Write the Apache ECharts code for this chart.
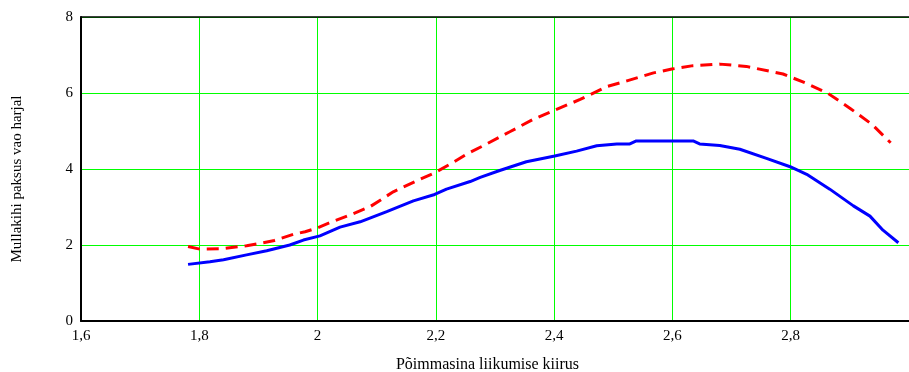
<!DOCTYPE html>
<html>
<head>
<meta charset="utf-8">
<script src="https://cdn.jsdelivr.net/npm/echarts@6/dist/echarts.min.js"></script>
<style>html,body{margin:0;padding:0;background:#fff}#c{width:909px;height:372px}</style>
</head>
<body>
<div id="c"></div>
<script>
var xTitle = 'Põimmasina liikumise kiirus';
var yTitle = 'Mullakihi paksus vao harjal';
var blueX = [1.781,1.818,1.841,1.880,1.914,1.953,1.976,2.004,2.038,2.072,2.117,2.162,2.198,2.218,2.258,2.275,2.308,2.353,2.401,2.438,2.472,2.506,2.528,2.539,2.635,2.646,2.680,2.714,2.759,2.799,2.827,2.866,2.906,2.934,2.956,2.982];
var blueY = [1.49,1.56,1.61,1.74,1.85,2.00,2.13,2.24,2.47,2.61,2.88,3.16,3.33,3.47,3.67,3.78,3.96,4.19,4.34,4.47,4.61,4.66,4.66,4.74,4.74,4.66,4.62,4.52,4.28,4.06,3.86,3.47,3.03,2.76,2.39,2.06];
var redX = [1.781,1.801,1.835,1.880,1.925,1.959,1.979,1.998,2.021,2.055,2.089,2.128,2.173,2.198,2.229,2.252,2.286,2.325,2.365,2.401,2.444,2.489,2.523,2.568,2.599,2.635,2.680,2.725,2.787,2.827,2.863,2.900,2.937,2.969];
var redY = [1.96,1.89,1.90,1.98,2.11,2.28,2.35,2.44,2.59,2.79,3.01,3.40,3.73,3.90,4.17,4.39,4.66,4.98,5.31,5.55,5.83,6.17,6.32,6.53,6.63,6.72,6.76,6.70,6.50,6.25,5.99,5.60,5.18,4.69];
function pairs(xs, ys){ return xs.map(function(x,i){ return [x, ys[i]]; }); }
var font = 'Liberation Serif';
var gridColor = '#00ff00';
var chart = echarts.init(document.getElementById('c'));
chart.setOption({
  animation: false,
  grid: {left: 81, right: 0, top: 17, bottom: 51, outerBoundsMode: 'none', containLabel: false},
  xAxis: [{
    type: 'value', min: 1.6, max: 3.0, interval: 0.2,
    name: xTitle, nameLocation: 'middle', nameGap: 36,
    nameTextStyle: {fontFamily: font, fontSize: 16, color: '#000', padding: [0, 15, 0, 0]},
    axisLine: {show: true, onZero: false, lineStyle: {color: '#000', width: 2}},
    axisTick: {show: false},
    axisLabel: {fontFamily: font, fontSize: 15, color: '#000', margin: 8, showMaxLabel: false,
      formatter: function(v){ return (Math.round(v*10)/10).toString().replace('.', ','); }},
    splitLine: {show: true, lineStyle: {color: gridColor, width: 1, opacity: 1}}
  },{
    type: 'value', position: 'top', min: 1.6, max: 3.0,
    axisLine: {show: true, onZero: false, lineStyle: {color: '#000', width: 1.5}},
    axisTick: {show: false}, axisLabel: {show: false}, splitLine: {show: false}
  }],
  yAxis: {
    type: 'value', min: 0, max: 8, interval: 2,
    name: yTitle, nameLocation: 'middle', nameGap: 56,
    nameTextStyle: {fontFamily: font, fontSize: 15, color: '#000', padding: [0, 20, 0, 0]},
    axisLine: {show: true, lineStyle: {color: '#000', width: 2}},
    axisTick: {show: false},
    axisLabel: {fontFamily: font, fontSize: 15, color: '#000', margin: 8},
    splitLine: {show: true, lineStyle: {color: gridColor, width: 1, opacity: 1}}
  },
  series: [{
    type: 'line', data: pairs(redX, redY), showSymbol: false, smooth: false,
    lineStyle: {color: '#ff0000', width: 3, type: [12, 7]}
  },{
    type: 'line', data: pairs(blueX, blueY), showSymbol: false, smooth: false,
    lineStyle: {color: '#0000ff', width: 3}
  }]
});
</script>
</body>
</html>
